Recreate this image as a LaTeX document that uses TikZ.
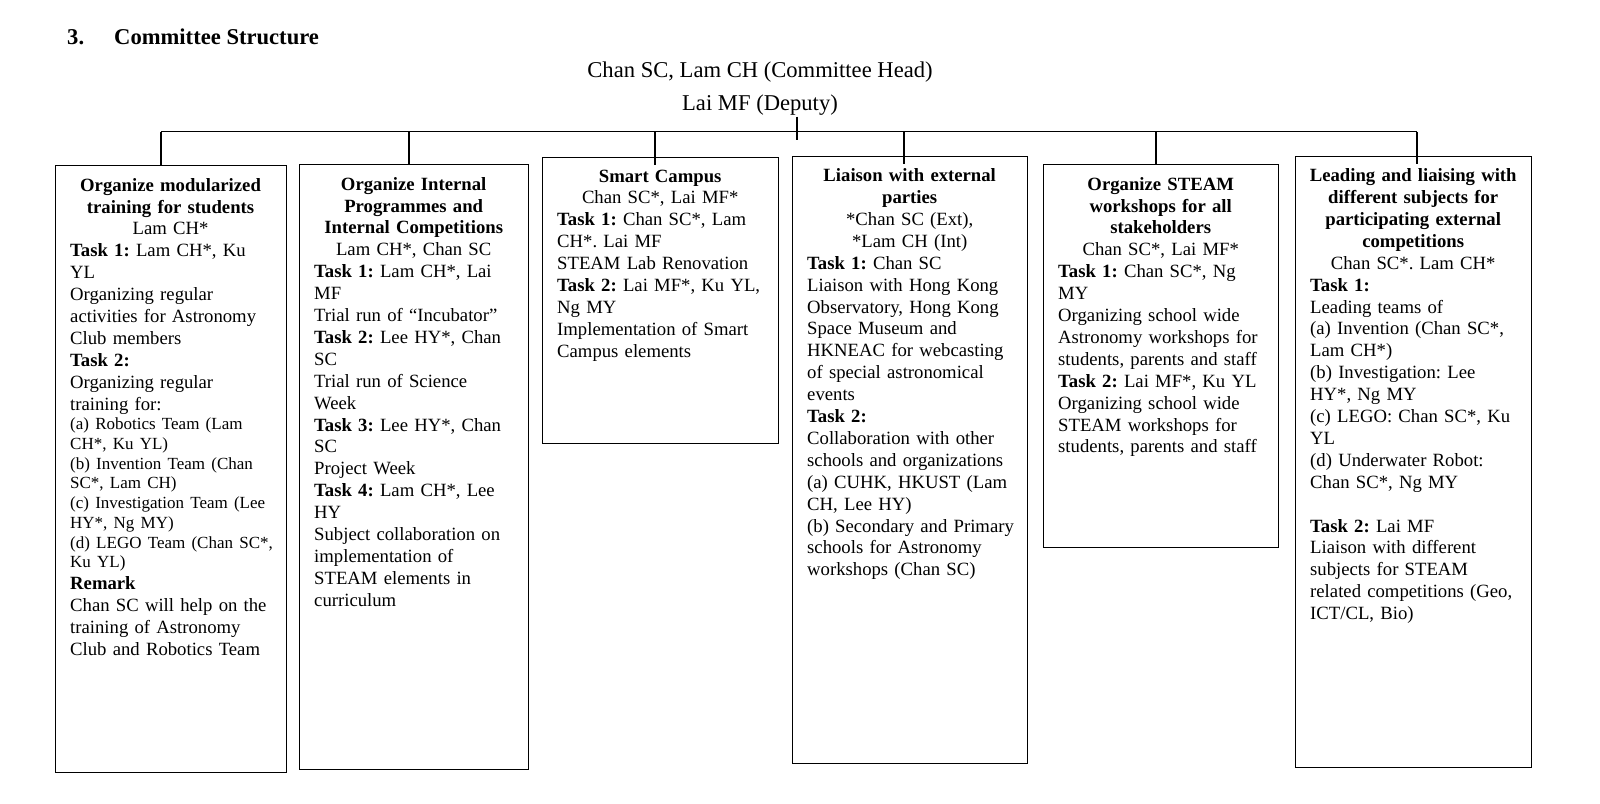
\documentclass[tikz,border=0pt]{standalone}
\usepackage{fontspec}
\setmainfont{Liberation Serif}
\usetikzlibrary{calc}
\newcommand{\bodysize}{\fontsize{18.7}{21.9}\selectfont}
\newcommand{\smallsize}{\fontsize{17}{19.7}\selectfont}
\newcommand{\headsize}{\fontsize{22.6}{26}\selectfont}
\newcommand{\task}[1]{\textbf{Task #1:}}
% centred lines, pulled back to the middle of the box
\newcommand{\boxhead}{\centering\leftskip=-12pt plus 1fil\relax}
\hfuzz=30pt
\frenchspacing
\hyphenpenalty=10000
\exhyphenpenalty=10000

\tikzset{
  box/.style={draw, line width=1.3pt, anchor=north west, inner sep=0pt},
  boxtext/.style={anchor=north west, inner sep=0pt, align=left, font=\bodysize},
  link/.style={line width=1.3pt},
}

\begin{document}
\begin{tikzpicture}[x=1pt,y=-1pt]
\useasboundingbox (0,0) rectangle (1600,803);

\node[anchor=base west, font=\headsize\bfseries, inner sep=0pt] (title) at (67,44) {\makebox[47pt][l]{3.}Committee Structure};
\node[anchor=base, font=\headsize, inner sep=0pt] (head) at (760,77.3) {Chan SC, Lam CH (Committee Head)};
\node[anchor=base, font=\headsize, inner sep=0pt] (deputy) at (760,110.7) {Lai MF (Deputy)};

\coordinate (ctop) at (797,116.7);
\coordinate (cbot) at (797,140);
\coordinate (j1) at (161,131.7);
\coordinate (j2) at (409,131.7);
\coordinate (j3) at (655,131.7);
\coordinate (j4) at (904,131.7);
\coordinate (j5) at (1156,131.7);
\coordinate (j6) at (1417,131.7);

% boxes
\node[box, minimum width=230.7pt, minimum height=606.7pt] (b1) at (55,165) {};
\node[box, minimum width=229pt, minimum height=605pt] (b2) at (299,164) {};
\node[box, minimum width=236pt, minimum height=286.5pt] (b3) at (542,156.5) {};
\node[box, minimum width=235pt, minimum height=607.5pt] (b4) at (792,155.5) {};
\node[box, minimum width=235pt, minimum height=383pt] (b5) at (1043,164) {};
\node[box, minimum width=236pt, minimum height=611.5pt] (b6) at (1295,155.5) {};

\draw[link] (ctop) -- (cbot);
\draw[link] (j1) -- (j6);
\draw[link] (j1) -- (j1 |- b1.north);
\draw[link] (j2) -- (j2 |- b2.north);
\draw[link] (j3) -- ($(j3 |- b3.north)+(0,8)$);
\draw[link] (j4) -- ($(j4 |- b4.north)+(0,8.5)$);
\draw[link] (j5) -- (j5 |- b5.north);
\draw[link] (j6) -- ($(j6 |- b6.north)+(0,8.5)$);

\node[boxtext, text width=212.7pt] (t1) at ($(b1.north west)+(15,13)$) {%
{\boxhead\bfseries Organize modularized\\ training for students\\ \mdseries Lam CH*\par}
\task{1} Lam CH*, Ku\\ YL\\ Organizing regular\\ activities for Astronomy\\ Club members\\ \task{2}\\ Organizing regular\\ training for:\par
{\smallsize (a) Robotics Team (Lam\\ CH*, Ku YL)\\ (b) Invention Team (Chan\\ SC*, Lam CH)\\ (c) Investigation Team (Lee\\ HY*, Ng MY)\\ (d) LEGO Team (Chan SC*,\\ Ku YL)\par}
\textbf{Remark}\\ Chan SC will help on the\\ training of Astronomy\\ Club and Robotics Team};

\node[boxtext, text width=211pt] (t2) at ($(b2.north west)+(15,13)$) {%
{\boxhead\bfseries Organize Internal\\ Programmes and\\ Internal Competitions\\ \mdseries Lam CH*, Chan SC\par}
\task{1} Lam CH*, Lai\\ MF\\ Trial run of “Incubator”\\ \task{2} Lee HY*, Chan\\ SC\\ Trial run of Science\\ Week\\ \task{3} Lee HY*, Chan\\ SC\\ Project Week\\ \task{4} Lam CH*, Lee\\ HY\\ Subject collaboration on\\ implementation of\\ STEAM elements in\\ curriculum};

\node[boxtext, text width=218pt] (t3) at ($(b3.north west)+(15,13)$) {%
{\boxhead\bfseries Smart Campus\\ \mdseries Chan SC*, Lai MF*\par}
\task{1} Chan SC*, Lam\\ CH*. Lai MF\\ STEAM Lab Renovation\\ \task{2} Lai MF*, Ku YL,\\ Ng MY\\ Implementation of Smart\\ Campus elements};

\node[boxtext, text width=217pt] (t4) at ($(b4.north west)+(15,13)$) {%
{\boxhead\bfseries Liaison with external\\ parties\\ \mdseries *Chan SC (Ext),\\ {}*Lam CH (Int)\par}
\task{1} Chan SC\\ Liaison with Hong Kong\\ Observatory, Hong Kong\\ Space Museum and\\ HKNEAC for webcasting\\ of special astronomical\\ events\\ \task{2}\\ Collaboration with other\\ schools and organizations\\ (a) CUHK, HKUST (Lam\\ CH, Lee HY)\\ (b) Secondary and Primary\\ schools for Astronomy\\ workshops (Chan SC)};

\node[boxtext, text width=217pt] (t5) at ($(b5.north west)+(15,13)$) {%
{\boxhead\bfseries Organize STEAM\\ workshops for all\\ stakeholders\\ \mdseries Chan SC*, Lai MF*\par}
\task{1} Chan SC*, Ng\\ MY\\ Organizing school wide\\ Astronomy workshops for\\ students, parents and staff\\ \task{2} Lai MF*, Ku YL\\ Organizing school wide\\ STEAM workshops for\\ students, parents and staff};

\node[boxtext, text width=218pt] (t6) at ($(b6.north west)+(15,13)$) {%
{\boxhead\bfseries Leading and liaising with\\ different subjects for\\ participating external\\ competitions\\ \mdseries Chan SC*. Lam CH*\par}
\task{1}\\ Leading teams of\\ (a) Invention (Chan SC*,\\ Lam CH*)\\ (b) Investigation: Lee\\ HY*, Ng MY\\ (c) LEGO: Chan SC*, Ku\\ YL\\ (d) Underwater Robot:\\ Chan SC*, Ng MY\\[21.9pt] \task{2} Lai MF\\ Liaison with different\\ subjects for STEAM\\ related competitions (Geo,\\ ICT/CL, Bio)};

\end{tikzpicture}
\end{document}
